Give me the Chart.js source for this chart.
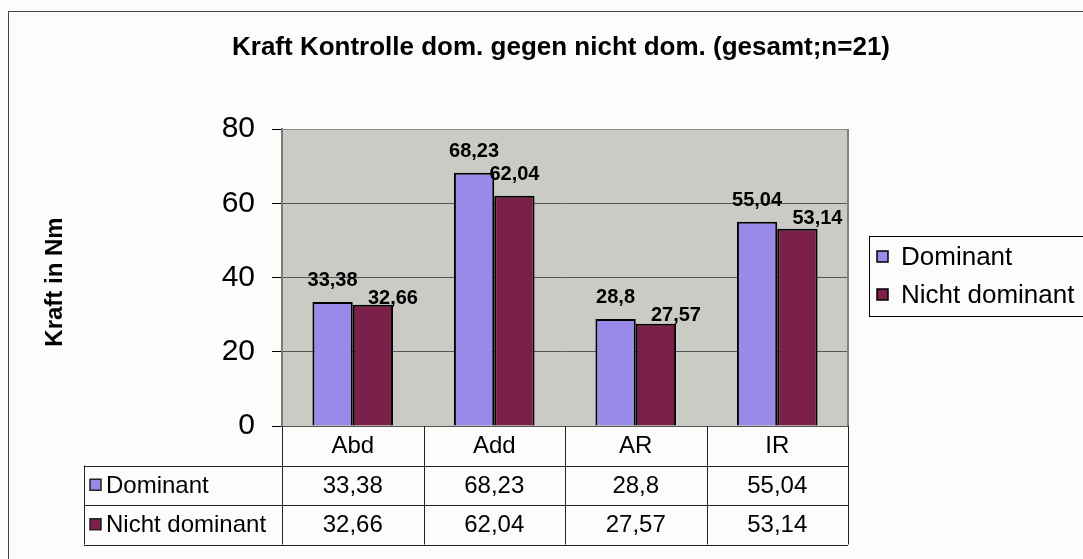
<!DOCTYPE html>
<html>
<head>
<meta charset="utf-8">
<script src="https://cdn.jsdelivr.net/npm/chart.js@4.4.1/dist/chart.umd.min.js"></script>
<style>
  body { margin: 0; background: #fcfcfa; }
</style>
</head>
<body>
<canvas id="myChart" width="1083" height="559"></canvas>
<script>
const categories = ['Abd', 'Add', 'AR', 'IR'];
const seriesNames = ['Dominant', 'Nicht dominant'];
const dominant = [33.38, 68.23, 28.8, 55.04];
const nichtDominant = [32.66, 62.04, 27.57, 53.14];
const yTicks = [0, 20, 40, 60, 80];

const colors = ['#9b89e9', '#7b204a'];
const FONT = "'Liberation Sans', Arial, sans-serif";

// german decimal comma
const fmt = v => String(v).replace('.', ',');

const excelLook = {
  id: 'excelLook',
  beforeDraw(chart) {
    const { ctx, chartArea: a } = chart;
    ctx.save();
    ctx.fillStyle = '#fcfcfa';
    ctx.fillRect(0, 0, chart.width, chart.height);
    ctx.strokeStyle = '#444';
    ctx.lineWidth = 1;
    ctx.strokeRect(8.5, 11.5, chart.width + 40, chart.height + 40);
    ctx.fillStyle = '#cacbc5';
    ctx.fillRect(a.left, a.top, a.right - a.left, a.bottom - a.top);
    ctx.restore();
  },
  afterDatasetsDraw(chart) {
    const ctx = chart.ctx;
    ctx.save();
    ctx.font = 'bold 20px ' + FONT;
    ctx.fillStyle = '#000';
    ctx.textAlign = 'center';
    ctx.textBaseline = 'alphabetic';
    const placed = [];
    chart.data.datasets.forEach((ds, di) => {
      chart.getDatasetMeta(di).data.forEach((bar, i) => {
        const txt = fmt(ds.data[i]);
        const w = ctx.measureText(txt).width;
        let cx = bar.x;
        let base = bar.y - 16;
        const prev = placed[i];
        // push label down/right when it would collide with the neighbour's label
        if (prev && cx - w / 2 < prev.x + prev.w / 2 && Math.abs(base - prev.base) < 16) {
          base = prev.base + 18;
          cx += 20;
        }
        ctx.fillText(txt, cx, base);
        placed[i] = { x: cx, w: w, base: base };
      });
    });
    ctx.restore();
  },
  afterDraw(chart) {
    const { ctx, chartArea: a } = chart;
    const xs = chart.scales.x;
    ctx.save();

    // title
    ctx.fillStyle = '#000';
    ctx.font = 'bold 26px ' + FONT;
    ctx.textAlign = 'center';
    ctx.textBaseline = 'alphabetic';
    ctx.fillText('Kraft Kontrolle dom. gegen nicht dom. (gesamt;n=21)', 561, 55);

    // y axis title
    ctx.save();
    ctx.translate(62, 282);
    ctx.rotate(-Math.PI / 2);
    ctx.font = 'bold 24px ' + FONT;
    ctx.fillText('Kraft in Nm', 0, 0);
    ctx.restore();

    // right border of plot area
    ctx.strokeStyle = '#808080';
    ctx.lineWidth = 2;
    ctx.beginPath();
    ctx.moveTo(a.right, a.top);
    ctx.lineTo(a.right, a.bottom);
    ctx.stroke();

    // legend
    ctx.strokeStyle = '#000';
    ctx.lineWidth = 1;
    ctx.strokeRect(869.5, 236.5, 240, 80);
    ctx.font = '26px ' + FONT;
    ctx.textAlign = 'left';
    ctx.textBaseline = 'middle';
    seriesNames.forEach((name, k) => {
      const cy = 257 + k * 38;
      ctx.fillStyle = colors[k];
      ctx.fillRect(877, cy - 6, 11, 11);
      ctx.lineWidth = 1.5;
      ctx.strokeRect(877, cy - 6, 11, 11);
      ctx.fillStyle = '#000';
      ctx.fillText(name, 901, cy + 1);
    });

    // data table under the plot
    const colW = (a.right - a.left) / categories.length;
    const rowH = 39.5;
    const top = a.bottom;
    const tableLeft = 84;
    ctx.strokeStyle = '#222';
    ctx.lineWidth = 1;
    ctx.beginPath();
    for (let i = 0; i <= categories.length; i++) {
      const xx = Math.round(a.left + i * colW) + 0.5;
      ctx.moveTo(xx, top);
      ctx.lineTo(xx, top + 3 * rowH);
    }
    for (let r = 1; r <= 3; r++) {
      const yy = Math.round(top + r * rowH) + 0.5;
      ctx.moveTo(tableLeft, yy);
      ctx.lineTo(a.right, yy);
    }
    ctx.moveTo(tableLeft + 0.5, top + rowH);
    ctx.lineTo(tableLeft + 0.5, top + 3 * rowH);
    ctx.stroke();

    ctx.font = '24px ' + FONT;
    ctx.textAlign = 'center';
    ctx.fillStyle = '#000';
    categories.forEach((c, i) => ctx.fillText(c, xs.getPixelForValue(i), top + rowH / 2 + 1));
    [dominant, nichtDominant].forEach((vals, k) => {
      const cy = top + (k + 1.5) * rowH + 1;
      vals.forEach((v, i) => {
        ctx.textAlign = 'center';
        ctx.fillStyle = '#000';
        ctx.fillText(fmt(v), xs.getPixelForValue(i), cy);
      });
      ctx.fillStyle = colors[k];
      ctx.fillRect(tableLeft + 6, cy - 7, 11, 11);
      ctx.lineWidth = 1.5;
      ctx.strokeRect(tableLeft + 6, cy - 7, 11, 11);
      ctx.textAlign = 'left';
      ctx.fillStyle = '#000';
      ctx.fillText(seriesNames[k], tableLeft + 22, cy);
    });
    ctx.restore();
  }
};

new Chart(document.getElementById('myChart'), {
  type: 'bar',
  data: {
    labels: categories,
    datasets: [
      { label: seriesNames[0], data: dominant, backgroundColor: colors[0] },
      { label: seriesNames[1], data: nichtDominant, backgroundColor: colors[1] }
    ]
  },
  plugins: [excelLook],
  options: {
    responsive: false,
    animation: false,
    layout: { padding: { left: 0, top: 129, right: 235, bottom: 133 } },
    datasets: {
      bar: {
        borderColor: '#000',
        borderWidth: 2,
        categoryPercentage: 0.57,
        barPercentage: 1.0
      }
    },
    plugins: {
      legend: { display: false },
      tooltip: { enabled: false },
      title: { display: false }
    },
    scales: {
      x: { display: false },
      y: {
        min: yTicks[0],
        max: yTicks[yTicks.length - 1],
        afterFit(scale) { scale.width = 282; },
        afterBuildTicks(scale) { scale.ticks = yTicks.map(v => ({ value: v })); },
        ticks: {
          font: { family: FONT, size: 30 },
          color: '#000',
          padding: 17
        },
        grid: {
          color: ctx => (ctx.tick && ctx.tick.value === yTicks[yTicks.length - 1]) ? '#8a8a8a' : '#555',
          lineWidth: 1,
          tickLength: 10,
          tickColor: '#000'
        },
        border: { color: '#7a7a7a', width: 2 }
      }
    }
  }
});
</script>
</body>
</html>
